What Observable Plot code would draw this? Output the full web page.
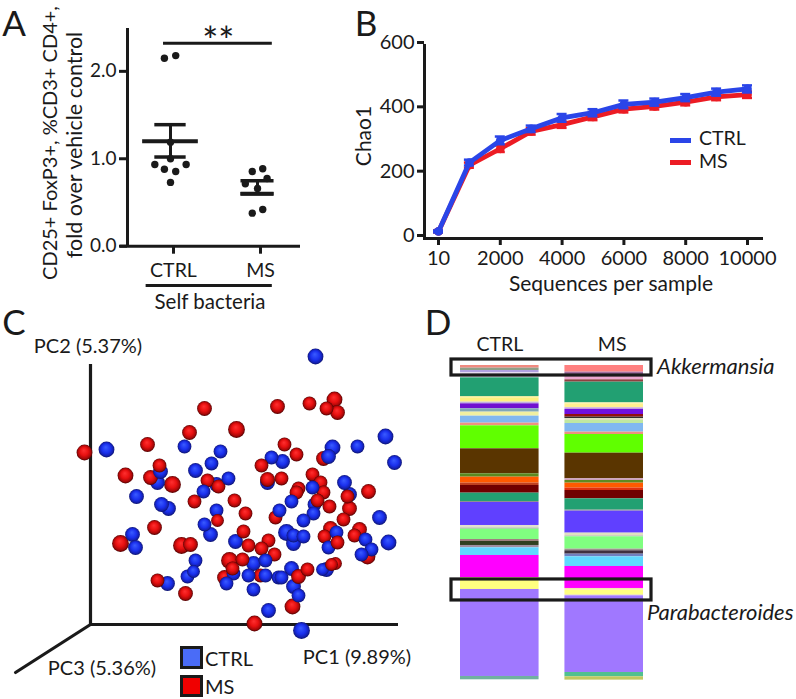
<!DOCTYPE html>
<html><head><meta charset="utf-8">
<script src="https://cdn.jsdelivr.net/npm/d3@7"></script>
<script src="https://cdn.jsdelivr.net/npm/@observablehq/plot@0.6"></script>
<style>
html,body{margin:0;padding:0;background:#fff}
#page{position:relative;width:796px;height:699px;overflow:hidden;font-family:Lato,"Noto Sans",sans-serif;color:#1a1a1a}
#page svg.plot-panel{position:absolute}
.lab{position:absolute;white-space:nowrap;line-height:1.2}
.swatch{position:absolute;box-sizing:border-box}
</style></head><body><div id="page"></div>
<script>
// ---------- Panel A ----------
const groupsA = ["CTRL", "MS"];
const ctrlFold = [2.15, 2.18, 1.19, 1.0, 0.935, 0.935, 0.88, 0.855, 0.73];
const ctrlJitter = [-0.07, 0.06, 0, 0, -0.18, 0.18, -0.07, 0.06, 0];
const msFold = [0.855, 0.885, 0.714, 0.775, 0.66, 0.42, 0.378];
const msJitter = [-0.06, 0.06, -0.14, 0.11, 0, 0.06, -0.06];
const meanA = [1.2, 0.6];
const upperA = [1.39, 0.75];
const lowerA = [1.02, 0.6];
const meanWidthA = [0.32, 0.19];
const capWidthA = [0.18, 0.19];
const yTicksA = [0, 1, 2];

// ---------- Panel B ----------
const depths = [10, 1000, 2000, 3000, 4000, 5000, 6000, 7000, 8000, 9000, 10000];
const depthLabels = [10, 2000, 4000, 6000, 8000, 10000];
const chaoCtrl = [22, 236, 305, 341, 375, 391, 417, 424, 438, 455, 465];
const chaoMs = [22, 228, 279, 333, 354, 378, 402, 411, 424, 440, 447];
const semCtrl = [3, 9, 12, 10, 12, 11, 12, 11, 11, 11, 11];
const semMs = [3, 8, 10, 10, 10, 10, 10, 10, 10, 10, 10];
const yTicksB = [0, 200, 400, 600];

// ---------- Panel C: [PC1, PC2, size, group] in draw order ----------
const sampleScores = [
[67,142,7,"C"],[126,140,7,"C"],[177,142,7,"C"],[259,130,7,"C"],[233,166,7,"M"],[238,168,7,"C"],
[60,147,7,"M"],[69,159,6.5,"M"],[70,153,7,"C"],[82,140,8,"M"],[-6,172,7.5,"M"],[16,175,7.5,"C"],
[57,180,7,"M"],[35,149,7.5,"M"],[46,128,7,"C"],[78,116,7,"C"],[71,120,7,"C"],[99,192,7,"M"],
[114,216,7,"M"],[146,195,8,"M"],[94,178,6.5,"C"],[130,173,6.5,"C"],[121,161,6.5,"C"],[105,154,7,"C"],
[117,144,6.5,"M"],[128,138,6.5,"M"],[138,146,6.5,"C"],[113,133,6.5,"C"],[104,123,6.5,"M"],[144,124,6.5,"M"],
[155,111,6.5,"M"],[225,268,7.5,"C"],[187,218,7,"M"],[219,221,6.5,"M"],[236,216,6.5,"M"],[247,212,7,"M"],
[244,225,7.5,"M"],[295,188,7.5,"C"],[267,178,6.5,"C"],[304,162,7,"C"],[194,180,6.5,"M"],[206,170,6.5,"M"],
[242,177,7.5,"C"],[181,167,6.5,"C"],[192,163,7,"C"],[171,159,6.5,"M"],[177,145,7,"M"],[191,146,6.5,"M"],
[222,150,6.5,"M"],[230,142,6.5,"M"],[233,132,6.5,"M"],[208,136,6.5,"M"],[206,132,6.5,"M"],[222,137,6.5,"C"],
[254,142,7,"C"],[257,128,6.5,"M"],[278,133,7,"M"],[201,123,6.5,"C"],[224,120,6.5,"C"],[227,124,6.5,"M"],
[239,118,6.5,"M"],[259,116,7,"M"],[185,107,6.5,"M"],[189,114,6.5,"C"],[127,104,6,"M"],[126,114,6.5,"C"],
[114,100,6.5,"C"],[120,90,7,"C"],[42,90,7,"C"],[30,81,8,"M"],[45,77,7,"C"],[64,97,7,"M"],
[100,80,7,"M"],[91,79,8,"M"],[105,64,6.5,"C"],[103,53,6,"C"],[97,48,6.5,"C"],[67,44,6.5,"M"],
[77,41,7,"C"],[95,31,7,"M"],[153,93,6.5,"M"],[158,79,6.5,"M"],[145,83,7,"C"],[178,84,6.5,"M"],
[171,76,6.5,"M"],[184,70,6.5,"M"],[152,65,6.5,"M"],[143,51,6.5,"C"],[142,56,6.5,"M"],[139,64,8,"M"],
[136,41,6.5,"C"],[134,47,7,"M"],[170,49,6.5,"M"],[163,61,7,"C"],[175,64,6.5,"C"],[158,49,6.5,"C"],
[175,49,6.5,"C"],[188,47,6.5,"C"],[163,35,6.5,"C"],[178,14,7,"C"],[223,111,6.5,"C"],[253,105,6.5,"M"],
[213,104,6.5,"C"],[289,107,7,"C"],[203,89,6.5,"C"],[213,88,6.5,"C"],[196,92,8,"C"],[203,81,7,"C"],
[234,88,6.5,"M"],[246,92,6.5,"C"],[240,96,7,"M"],[238,77,6.5,"C"],[247,82,6.5,"M"],[264,89,6.5,"M"],
[269,95,7,"M"],[275,85,6.5,"C"],[298,82,7.5,"C"],[281,75,6.5,"C"],[271,70,6.5,"C"],[277,68,7.5,"M"],
[201,56,7,"C"],[217,55,6.5,"M"],[191,47,6.5,"C"],[208,29,6.5,"C"],[203,38,7,"C"],[208,48,7,"M"],
[202,18,7.5,"M"],[232,55,6,"C"],[245,61,6,"M"],[241,60,6,"M"],[236,55,7,"C"],[164,1,7.5,"M"],[211,-6,8,"C"]
];

// ---------- Panel D ----------
const barGroups = ["CTRL", "MS"];
const ctrlShares = [8,7,7,15,56,4,13,5,15,10,12,21,8,69,75,10,18,7,23,25,3,69,8,3,31,6,12,7,23,67,35,261,10];
const ctrlTaxa = ["#f08a80","#8fa088","#b0a0e0","#e6d8ee","#22a072","#e8e8a0","#fff080","#c0b0e0","#7010d0","#80a8b8","#f0f0a0","#80b8f0","#f09080","#60ff00","#5a3500","#5a8a20","#ff5a00","#c04020","#700000","#22a072","#909090","#6040ff","#e0e0d0","#a0a0a0","#80ff80","#a08080","#304020","#a090a0","#60d8ff","#ff00ff","#ffff80","#a078ff","#70b0a0"];
const msShares = [20,7,16,7,62,3,12,5,15,8,4,6,9,26,7,56,77,5,8,15,7,25,34,3,66,9,2,37,5,10,8,29,66,5,13,4,230,13,10];
const msTaxa = ["#ff8080","#a070a0","#eca8d0","#904040","#22a072","#e8e8a0","#fff090","#c0a0e0","#7010e0","#901010","#303030","#e0e0c0","#c0e8a0","#80b8f0","#f09080","#60ff00","#5a3500","#d0a0c0","#608a20","#ff5a00","#e03010","#700000","#22a072","#909090","#6040ff","#e0e0c0","#a0a0a0","#80ff80","#a09090","#403040","#7080c0","#60d8ff","#ff00ff","#f0e8b0","#ffff80","#f0e8b0","#a078ff","#50c090","#c0c860"];

// ---------- helpers ----------
const page = document.getElementById("page");
const INK = "#1a1a1a";
const FONT = 'Lato, "Noto Sans", sans-serif';
function panel(left, top, options, after) {
  const svg = Plot.plot({...options, style: {background: "transparent", fontFamily: FONT, color: INK, overflow: "visible"}});
  svg.classList.add("plot-panel");
  svg.style.left = left + "px";
  svg.style.top = top + "px";
  if (after) after(svg);
  page.appendChild(svg);
}
function label(text, x, y, size, o = {}) {
  const d = document.createElement("div");
  d.className = "lab";
  d.textContent = text;
  d.style.left = x + "px";
  d.style.top = y + "px";
  d.style.fontSize = size + "px";
  if (o.italic) d.style.fontStyle = "italic";
  const tx = o.left ? "0" : "-50%";
  d.style.transform = `translate(${tx},-50%)` + (o.rotate ? ` rotate(${o.rotate}deg)` : "");
  page.appendChild(d);
}
function swatch(x, y, w, h, fill, border) {
  const d = document.createElement("div");
  d.className = "swatch";
  Object.assign(d.style, {left: x + "px", top: y + "px", width: w + "px", height: h + "px", background: fill});
  if (border) d.style.border = `${border}px solid ${INK}`;
  page.appendChild(d);
}

// ---------- A ----------
const ctrlPts = ctrlFold.map((v, i) => ({x: 1 + ctrlJitter[i], y: v}));
const msPts = msFold.map((v, i) => ({x: 2 + msJitter[i], y: v}));
const summary = groupsA.map((g, i) => ({x: i + 1, mean: meanA[i], up: upperA[i], lo: lowerA[i], mw: meanWidthA[i], cw: capWidthA[i]}));
panel(0, 0, {
  width: 330, height: 320, marginLeft: 127, marginRight: 30, marginTop: 28, marginBottom: 74.3,
  x: {domain: [0.506, 2.494], label: null},
  y: {domain: [0, 2.49], label: null},
  marks: [
    Plot.ruleX([0.506], {y1: 0, y2: 2.49, stroke: INK, strokeWidth: 3}),
    Plot.ruleY([0], {x1: 0.425, x2: 2.494, stroke: INK, strokeWidth: 3}),
    Plot.axisY({ticks: yTicksA, tickFormat: d3.format(".1f"), tickSize: 8, tickPadding: 3, strokeWidth: 3, fontSize: 19, label: null}),
    Plot.axisX({ticks: [1, 2], tickFormat: d => groupsA[d - 1], tickSize: 8, tickPadding: 9, strokeWidth: 3, fontSize: 19.5, label: null, dx: 3}),
    Plot.dot(ctrlPts, {x: "x", y: "y", r: 3.7, fill: INK}),
    Plot.dot(msPts, {x: "x", y: "y", r: 3.7, fill: INK}),
    Plot.ruleX(summary, {x: "x", y1: "lo", y2: "up", stroke: INK, strokeWidth: 3}),
    Plot.ruleY(summary, {y: "mean", x1: d => d.x - d.mw, x2: d => d.x + d.mw, stroke: INK, strokeWidth: 4}),
    Plot.ruleY(summary, {y: "up", x1: d => d.x - d.cw, x2: d => d.x + d.cw, stroke: INK, strokeWidth: 3.5}),
    Plot.ruleY(summary, {y: "lo", x1: d => d.x - d.cw, x2: d => d.x + d.cw, stroke: INK, strokeWidth: 3.5}),
    Plot.ruleY([2.32], {x1: 0.92, x2: 2.17, stroke: INK, strokeWidth: 3}),
    Plot.ruleY([-0.45], {x1: 0.72, x2: 2.17, stroke: INK, strokeWidth: 3}),
    Plot.text(["**"], {x: 1.55, y: 2.33, text: d => d, fontSize: 38})
  ]
});
label("A", 14, 22, 35);
label("CD25+ FoxP3+, %CD3+ CD4+,", 49, 143, 20, {rotate: -90});
label("fold over vehicle control", 75, 145, 21.5, {rotate: -90});
label("Self bacteria", 210, 301, 20.5);

// ---------- B ----------
const rowsB = depths.flatMap((d, i) => [
  {depth: d, group: "MS", v: chaoMs[i], sem: semMs[i]},
  {depth: d, group: "CTRL", v: chaoCtrl[i], sem: semCtrl[i]}
]);
const seriesColors = {CTRL: "#2a45e8", MS: "#ec1c24"};
const seriesMarks = g => {
  const rows = rowsB.filter(d => d.group === g);
  const c = seriesColors[g];
  return [
    Plot.ruleX(rows, {x: "depth", y1: d => d.v - d.sem, y2: d => d.v + d.sem, stroke: c, strokeWidth: 2.5}),
    Plot.ruleY(rows, {x1: "depth", x2: "depth", y: d => d.v + d.sem, stroke: c, strokeWidth: 2.5, insetLeft: -5, insetRight: -5}),
    Plot.ruleY(rows, {x1: "depth", x2: "depth", y: d => d.v - d.sem, stroke: c, strokeWidth: 2.5, insetLeft: -5, insetRight: -5}),
    Plot.line(rows, {x: "depth", y: "v", stroke: c, strokeWidth: 4.8}),
    Plot.dot(rows, {x: "depth", y: "v", r: 4.4, fill: c})
  ];
};
panel(340, 0, {
  width: 456, height: 300, marginLeft: 84, marginRight: 33, marginTop: 45, marginBottom: 62,
  x: {type: "point", domain: depths, range: [98, 407], padding: 0, round: false, label: null},
  y: {domain: [0, 600], label: null},
  marks: [
    Plot.frame({anchor: "left", stroke: INK, strokeWidth: 3}),
    Plot.ruleY([0], {stroke: INK, strokeWidth: 3}),
    Plot.axisY({ticks: yTicksB, tickSize: 7, tickPadding: 3, strokeWidth: 3, fontSize: 20, label: null, dy: -3}),
    Plot.axisX({ticks: depthLabels, tickFormat: d => String(d), tickSize: 7, tickPadding: 5, strokeWidth: 3, fontSize: 20, label: null}),
    ...seriesMarks("MS"),
    ...seriesMarks("CTRL")
  ]
});
label("B", 366, 22, 35);
label("Chao1", 363, 136, 21, {rotate: -90});
label("Sequences per sample", 611, 283, 21);
swatch(670, 138, 21, 4.5, seriesColors.CTRL);
swatch(670, 160, 21, 4.5, seriesColors.MS);
label("CTRL", 699, 138, 19.5, {left: true});
label("MS", 699, 161, 19.5, {left: true});

// ---------- C ----------
const sphereDefs = svg => {
  const ns = "http://www.w3.org/2000/svg";
  const defs = document.createElementNS(ns, "defs");
  const stops = {
    sphereM: [[0, "#ff3030"], [0.5, "#e81010"], [0.8, "#a80808"], [1, "#400000"]],
    sphereC: [[0, "#3a5cff"], [0.55, "#1a30ee"], [0.82, "#1420b0"], [1, "#0a1060"]]
  };
  for (const id in stops) {
    const g = document.createElementNS(ns, "radialGradient");
    g.setAttribute("id", id);
    g.setAttribute("cx", "0.5"); g.setAttribute("cy", "0.5"); g.setAttribute("r", "0.52");
    g.setAttribute("fx", "0.45"); g.setAttribute("fy", "0.35");
    for (const [o, c] of stops[id]) {
      const s = document.createElementNS(ns, "stop");
      s.setAttribute("offset", o); s.setAttribute("stop-color", c);
      g.appendChild(s);
    }
    defs.appendChild(g);
  }
  svg.insertBefore(defs, svg.firstChild);
};
const scoreRows = sampleScores.map(([x, y, r, g]) => ({x, y, r, g}));
panel(0, 320, {
  width: 440, height: 379, marginLeft: 90, marginRight: 42, marginTop: 44, marginBottom: 75,
  x: {domain: [0, 308], label: null, axis: null},
  y: {domain: [0, 260], label: null, axis: null},
  r: {type: "identity"},
  color: {type: "identity"},
  marks: [
    Plot.ruleX([0], {y1: 0, y2: 260, stroke: INK, strokeWidth: 3.2}),
    Plot.ruleY([0], {x1: 0, x2: 308, stroke: INK, strokeWidth: 3.2}),
    Plot.line([[0, 0], [-75, -48]], {stroke: INK, strokeWidth: 3.2}),
    Plot.dot(scoreRows, {x: "x", y: "y", r: d => d.r + 0.4, fill: d => d.g === "M" ? "url(#sphereM)" : "url(#sphereC)"})
  ]
}, sphereDefs);
label("C", 14, 321, 35);
label("PC2 (5.37%)", 88, 345, 20);
label("PC3 (5.36%)", 102, 667, 20);
label("PC1 (9.89%)", 357, 656, 20);
swatch(180, 646, 23, 23, "#4a6cf7", 3);
swatch(180, 675, 23, 22, "#f00000", 3);
label("CTRL", 205, 658, 20, {left: true});
label("MS", 205, 686, 20, {left: true});

// ---------- D ----------
const stackRows = [
  ...ctrlShares.map((h, i) => ({group: "CTRL", h, color: ctrlTaxa[i]})),
  ...msShares.map((h, i) => ({group: "MS", h, color: msTaxa[i]}))
];
panel(440, 320, {
  width: 356, height: 379, marginLeft: 11, marginRight: 145, marginTop: 45, marginBottom: 19.7,
  x: {type: "band", domain: barGroups, range: [20, 203], paddingInner: 0.2476, paddingOuter: 0, round: false, label: null, axis: null},
  y: {domain: [0, 943], reverse: true, label: null, axis: null},
  color: {type: "identity"},
  marks: [
    Plot.barY(stackRows, {x: "group", y: "h", fill: "color"}),
    Plot.rect([{a: -18, b: 30}, {a: 642, b: 705}], {y1: "a", y2: "b", fill: "none", stroke: INK, strokeWidth: 3.2}),
    Plot.text(["CTRL"], {x: d => d, text: d => d, frameAnchor: "top", dy: -28, fontSize: 19.5}),
    Plot.text(["MS"], {x: d => d, text: d => d, frameAnchor: "top", dy: -28, dx: 8, fontSize: 19.5})
  ]
});
label("D", 438, 321, 35);
label("Akkermansia", 657, 366, 22, {left: true, italic: true});
label("Parabacteroides", 647, 612, 22, {left: true, italic: true});
</script></body></html>
